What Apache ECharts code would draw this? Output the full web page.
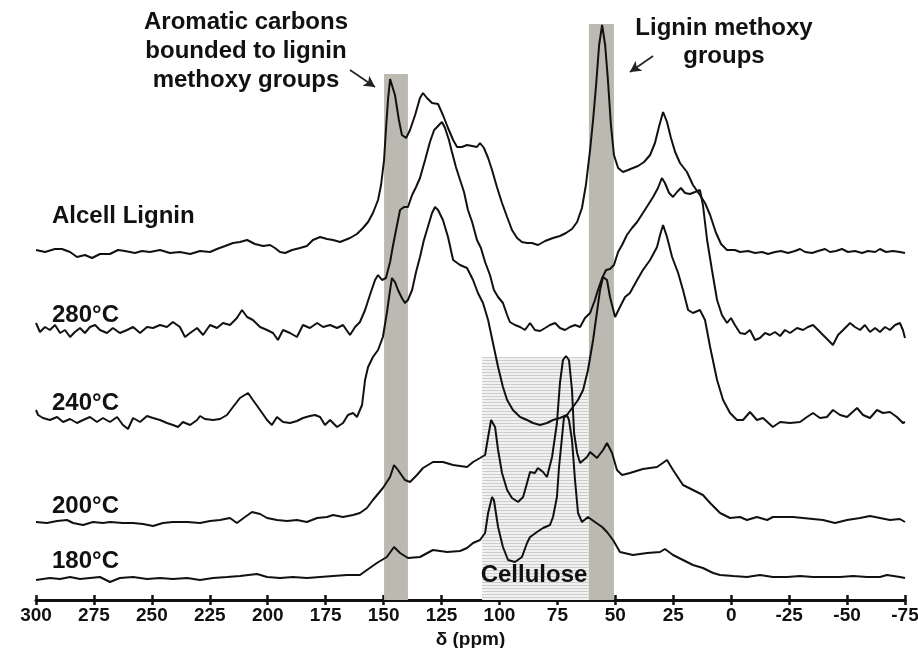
<!DOCTYPE html>
<html><head><meta charset="utf-8">
<script src="https://cdn.jsdelivr.net/npm/echarts@6/dist/echarts.min.js"></script>
<style>html,body{margin:0;padding:0;background:#fff}#c{width:918px;height:648px}</style>
</head><body><div id="c"></div>
<script>
// x = chemical shift (ppm), y = intensity (a.u., traces vertically offset as in the figure)
const ppmTicks = [300, 275, 250, 225, 200, 175, 150, 125, 100, 75, 50, 25, 0, -25, -50, -75];
const traceNames = ['Alcell Lignin', '280°C', '240°C', '200°C', '180°C'];

const alcell = [[300,350],[296.1,348],[291.8,351],[288.8,351],[285.3,348],[282.3,343],[278.9,345],[275.8,342],[272.4,346],[268.1,346],[264.6,350],[261.6,349],[257.3,347],[254.3,349],[250.8,348],[246.5,350],[242.2,347],[237.9,348],[233.5,346],[229.2,349],[224.9,348],[221.9,351],[218.4,354],[215.0,357],[212.0,358],[208.9,360],[205.5,356],[202.0,354],[199.0,355],[196.9,352],[194.7,348],[192.5,347],[189.5,350],[186.1,352],[183.1,354],[180.5,360],[177.4,363],[174.4,361],[171.8,360],[168.8,358],[164.5,362],[161.5,366],[158.9,372],[156.7,378],[154.6,387],[152.4,400],[151.1,415],[149.8,440],[149.0,470],[148.1,500],[147.2,521],[146.4,520],[145.1,505],[143.4,480],[142.1,465],[140.3,462],[138.6,470],[136.4,485],[134.3,502],[133.0,507],[131.3,502],[129.1,497],[126.5,496],[124.4,485],[122.2,472],[120.0,460],[118.3,453],[116.2,453],[114.0,455],[111.8,454],[109.7,453],[108.4,457],[106.7,452],[104.9,442],[103.2,430],[101.1,413],[98.9,397],[96.7,383],[94.6,370],[92.4,362],[90.3,358],[88.1,357],[86.0,357],[83.4,355],[80.3,359],[76.9,362],[73.9,364],[71.3,367],[68.7,371],[66.5,378],[64.4,392],[62.7,415],[60.9,450],[59.6,480],[58.3,515],[57.0,555],[55.7,575],[54.4,555],[53.2,520],[51.9,475],[50.6,445],[48.8,432],[46.7,428],[44.5,430],[42.4,432],[40.2,434],[37.6,438],[35.0,445],[32.9,457],[31.2,473],[29.4,488],[27.7,478],[26.0,462],[24.2,448],[22.1,437],[19.1,428],[16.5,415],[13.5,405],[11.3,397],[9.1,385],[6.7,368],[4.4,356],[1.8,350],[-1.6,350],[-3.8,348],[-7.3,349],[-10.3,347],[-13.3,348],[-15.9,346],[-18.9,348],[-21.5,349],[-24.5,347],[-27.5,349],[-29.7,351],[-31.9,348],[-34.9,347],[-37.5,349],[-40.5,351],[-42.6,348],[-45.2,349],[-47.8,351],[-50.4,348],[-53.4,349],[-56.5,347],[-59.0,349],[-62.1,348],[-64.2,351],[-66.8,348],[-69.8,349],[-72.8,348],[-75,347]];

const t280 = [[300,277],[298.3,268],[296.1,273],[294.0,270],[291.8,275],[289.6,267],[287.5,270],[285.3,263],[283.2,268],[281.0,272],[278.9,267],[276.7,273],[274.5,275],[272.4,270],[269.4,267],[266.8,272],[263.8,267],[260.7,270],[258.1,273],[255.1,267],[252.1,273],[249.5,272],[246.5,275],[243.5,273],[240.9,278],[237.9,273],[235.7,263],[233.5,267],[230.5,272],[227.9,265],[224.9,275],[221.9,272],[219.3,277],[216.3,275],[213.3,282],[211.1,290],[208.9,283],[206.4,280],[203.3,273],[200.3,270],[197.7,267],[195.6,260],[193.4,270],[190.4,267],[187.4,263],[184.8,275],[181.8,272],[178.7,277],[176.1,273],[173.1,275],[170.1,272],[167.5,275],[164.5,265],[162.3,273],[160.2,278],[158.0,290],[155.9,305],[153.7,320],[152.4,325],[150.7,320],[149.0,322],[147.2,338],[145.9,355],[144.2,375],[142.9,390],[141.2,393],[139.5,393],[137.7,405],[136.0,413],[134.3,422],[132.1,440],[130.0,458],[128.2,470],[126.9,473],[125.7,476],[124.8,478],[123.5,472],[121.8,460],[120.5,448],[118.8,433],[117.0,420],[115.3,408],[113.6,390],[111.8,378],[109.7,360],[108.0,352],[106.2,338],[104.1,325],[102.4,310],[100.6,303],[98.5,297],[96.7,285],[95.5,278],[93.3,275],[91.1,273],[89.0,270],[86.8,277],[84.7,270],[82.5,269],[80.3,272],[78.2,275],[76.0,277],[73.9,272],[71.7,270],[69.6,273],[67.4,275],[65.2,273],[63.1,282],[60.9,287],[58.8,300],[57.5,310],[55.7,322],[54.0,330],[52.3,331],[50.6,335],[48.8,348],[47.1,355],[45.0,365],[42.8,372],[40.6,378],[38.1,387],[35.9,395],[33.7,403],[31.6,412],[29.9,422],[28.6,417],[26.8,407],[25.1,403],[23.4,408],[21.7,412],[19.9,407],[17.8,406],[15.6,408],[13.5,410],[12.2,395],[10.4,360],[8.3,330],[6.1,300],[4.0,285],[1.8,277],[0.1,282],[-1.6,275],[-3.8,267],[-6.0,266],[-8.1,270],[-10.3,260],[-12.4,262],[-14.6,267],[-16.7,265],[-18.9,268],[-21.1,264],[-23.2,270],[-25.4,267],[-28.4,272],[-31.0,270],[-33.1,273],[-35.3,275],[-37.5,270],[-39.6,265],[-41.8,260],[-43.9,255],[-46.1,265],[-48.3,270],[-51.3,277],[-53.4,273],[-55.6,270],[-57.7,275],[-59.9,268],[-62.1,272],[-64.2,268],[-66.4,273],[-68.5,270],[-70.7,275],[-72.8,277],[-74.1,270],[-75,262]];

const t240 = [[300,190],[299.1,185],[297.0,182],[294.0,180],[290.9,183],[288.3,178],[285.3,181],[282.3,177],[279.7,180],[276.7,183],[273.7,178],[271.1,182],[268.1,178],[265.0,183],[262.5,175],[260.3,171],[258.1,182],[255.1,178],[252.1,184],[249.5,182],[246.5,180],[243.5,177],[240.9,175],[238.7,173],[236.6,178],[233.5,175],[230.5,180],[229.2,184],[227.1,181],[223.6,180],[220.6,181],[217.6,185],[215.0,193],[212.0,202],[208.5,207],[206.4,200],[203.3,190],[200.3,180],[198.2,175],[196.0,183],[193.4,178],[190.4,177],[187.4,179],[184.8,182],[181.8,184],[179.6,185],[177.4,183],[175.3,175],[173.1,180],[170.1,173],[167.5,177],[165.4,185],[163.2,187],[161.5,183],[159.3,195],[158.0,220],[156.7,233],[154.6,243],[152.4,250],[150.3,263],[148.6,287],[147.2,310],[146.4,322],[145.1,318],[143.8,310],[142.1,302],[140.8,297],[139.5,300],[137.7,310],[136.0,328],[134.3,343],[132.6,360],[131.3,370],[129.1,387],[127.8,393],[126.5,390],[124.4,380],[122.2,363],[120.0,340],[117.0,335],[114.0,332],[111.4,320],[109.3,307],[107.1,297],[104.9,280],[102.8,257],[100.6,233],[98.5,213],[96.7,200],[94.2,190],[91.1,183],[88.1,180],[85.5,177],[82.5,175],[79.5,177],[76.9,180],[73.9,182],[70.9,185],[68.3,193],[66.1,200],[63.9,210],[61.8,230],[59.6,260],[56.6,310],[55.3,323],[53.6,320],[52.3,303],[50.1,283],[48.0,293],[45.8,303],[43.7,307],[40.6,320],[38.1,330],[35.0,340],[32.0,353],[30.7,365],[29.4,375],[27.7,363],[25.5,343],[22.9,327],[20.8,310],[18.6,290],[16.5,287],[13.5,290],[11.3,280],[9.1,253],[6.1,220],[3.5,200],[0.5,187],[-2.5,180],[-5.1,180],[-8.1,188],[-11.1,180],[-13.7,182],[-18.0,173],[-21.1,178],[-25.4,177],[-29.7,178],[-32.7,183],[-35.3,187],[-38.3,182],[-41.3,183],[-43.9,190],[-47.0,185],[-50.0,183],[-54.3,192],[-56.9,185],[-59.9,182],[-62.9,190],[-65.5,187],[-68.5,188],[-71.5,183],[-74.1,177],[-75,178]];

const t200 = [[300,78],[295.3,77],[290.9,79],[286.6,80],[284.0,77],[279.7,75],[275.4,78],[271.1,77],[268.1,78],[262.5,77],[258.1,77],[253.8,76],[249.5,74],[245.2,77],[240.9,78],[234.8,78],[229.2,77],[224.9,79],[220.6,80],[216.3,82],[213.3,77],[209.8,83],[206.8,88],[203.3,86],[200.3,82],[196.0,80],[191.7,79],[187.4,80],[183.1,78],[178.7,82],[174.4,83],[171.8,85],[167.5,83],[163.2,85],[160.2,87],[157.2,92],[154.6,100],[150.3,112],[147.2,123],[145.5,135],[143.8,130],[140.8,120],[138.6,118],[135.6,125],[133.0,132],[128.7,138],[124.4,138],[120.0,135],[117.0,134],[114.0,133],[111.4,138],[108.4,142],[106.2,145],[104.9,163],[103.6,180],[103.2,182],[101.9,173],[100.6,150],[98.9,127],[96.7,110],[94.6,102],[92.0,98],[89.8,103],[88.1,117],[86.8,128],[84.7,127],[83.4,132],[81.2,128],[79.5,123],[77.3,143],[75.2,177],[73.9,217],[72.6,240],[71.3,244],[70.0,240],[68.7,210],[67.8,167],[66.5,147],[65.2,137],[62.2,143],[60.9,148],[57.9,142],[55.3,150],[53.6,157],[51.4,147],[49.3,130],[47.1,125],[43.7,127],[38.1,131],[32.0,133],[27.7,140],[25.1,130],[20.8,115],[16.5,110],[12.2,105],[9.1,97],[4.8,87],[0.5,82],[-3.8,83],[-6.8,80],[-11.1,83],[-15.5,80],[-18.0,83],[-22.4,83],[-26.7,83],[-31.0,82],[-35.3,81],[-39.6,80],[-44.8,77],[-50.0,80],[-55.6,82],[-59.9,84],[-64.2,82],[-68.5,80],[-72.8,81],[-75,78]];

const t180 = [[300,20],[294.0,22],[289.6,21],[285.3,23],[281.0,21],[276.7,22],[272.4,23],[268.1,18],[263.8,22],[258.1,23],[252.1,21],[246.5,22],[240.9,21],[234.8,22],[229.2,20],[223.6,22],[217.6,23],[212.0,24],[204.6,26],[200.3,23],[194.7,22],[189.1,23],[183.1,22],[177.4,23],[171.8,24],[165.8,25],[160.2,25],[157.2,30],[152.9,37],[148.6,43],[145.5,53],[142.9,47],[139.5,42],[134.3,43],[128.7,50],[122.6,48],[117.0,49],[114.0,52],[111.4,57],[108.4,60],[106.2,67],[104.9,87],[103.2,103],[102.4,100],[100.6,73],[98.5,53],[96.3,40],[93.3,38],[90.3,43],[88.1,57],[86.8,63],[83.8,68],[81.2,72],[78.2,75],[76.9,83],[75.2,103],[74.3,133],[73.0,163],[72.2,182],[70.9,185],[70.0,180],[68.7,160],[67.4,120],[66.1,87],[64.4,78],[61.8,83],[58.8,78],[55.7,73],[53.6,68],[51.0,60],[48.0,48],[42.4,45],[36.3,47],[30.7,48],[28.6,51],[25.1,45],[20.8,40],[16.5,35],[12.2,32],[7.8,27],[4.8,25],[-0.8,24],[-6.8,23],[-12.4,25],[-18.0,23],[-24.1,23],[-29.7,24],[-35.3,23],[-41.3,23],[-47.0,23],[-52.6,24],[-58.6,23],[-64.2,23],[-67.2,25],[-72.8,23],[-75,22]];

// highlighted regions: [ppm from, ppm to, top intensity]
const aromaticBand = [149.8, 139.5, 526];
const methoxyBand = [61.4, 50.6, 576];
const celluloseBand = [107.5, 61.4, 243];

const FONT = '"Liberation Sans", Arial, sans-serif';
const INK = '#111';

const chart = echarts.init(document.getElementById('c'), null, {renderer: 'canvas'});

function bandItem(fill) {
  return function (params, api) {
    const p1 = api.coord([api.value(0), api.value(2)]);
    const p2 = api.coord([api.value(1), 0]);
    return {type: 'rect', shape: {x: Math.min(p1[0], p2[0]), y: p1[1], width: Math.abs(p2[0] - p1[0]), height: p2[1] - p1[1]}, style: {fill: fill}};
  };
}
function hatchItem(params, api) {
  const p1 = api.coord([api.value(0), api.value(2)]);
  const p2 = api.coord([api.value(1), 0]);
  const x1 = Math.min(p1[0], p2[0]), x2 = Math.max(p1[0], p2[0]);
  const children = [{type: 'rect', shape: {x: x1, y: p1[1], width: x2 - x1, height: p2[1] - p1[1]}, style: {fill: '#f1f1f1'}}];
  for (let y = p1[1] + 0.5; y < p2[1]; y += 3) {
    children.push({type: 'line', shape: {x1: x1, y1: y, x2: x2, y2: y}, style: {stroke: '#cdcdcd', lineWidth: 1}});
  }
  return {type: 'group', children: children};
}

const traces = [alcell, t280, t240, t200, t180];
const series = [
  {type: 'custom', renderItem: hatchItem, data: [celluloseBand], z: 1, silent: true},
  {type: 'custom', renderItem: bandItem('#bcb9b1'), data: [aromaticBand, methoxyBand], z: 1, silent: true}
];
traces.forEach((d, i) => {
  const s = {
    name: traceNames[i], type: 'line', data: d, showSymbol: false, symbol: 'none',
    lineStyle: {color: INK, width: 2}, z: 5, silent: true, animation: false
  };
  if (i === 0) {
    s.markLine = {
      silent: true, symbol: ['none', 'arrow'], symbolSize: [9, 11], animation: false,
      lineStyle: {color: '#222', width: 1.6, type: 'solid'}, label: {show: false},
      data: [
        [{coord: [164.5, 530]}, {coord: [153.7, 513]}],
        [{coord: [33.7, 544]}, {coord: [43.7, 528]}]
      ]
    };
  }
  series.push(s);
});

function txt(text, x, y, align, size) {
  return {type: 'text', x: x, y: y, z: 100, silent: true,
    style: {text: text, font: 'bold ' + (size || 24) + 'px ' + FONT, fill: INK, textAlign: align || 'left', textVerticalAlign: 'middle'}};
}

const option = {
  animation: false,
  backgroundColor: '#fff',
  grid: {left: 36, right: 13, top: 0, bottom: 48, outerBoundsMode: 'none', containLabel: false},
  xAxis: [{
    type: 'value', inverse: true, min: -75, max: 300, interval: 25,
    name: 'δ (ppm)', nameLocation: 'middle', nameGap: 21,
    nameTextStyle: {fontFamily: FONT, fontWeight: 'bold', fontSize: 19, color: INK},
    axisLine: {lineStyle: {color: INK, width: 3}},
    axisTick: {show: true, length: 5, lineStyle: {color: INK, width: 2.5}},
    axisLabel: {fontFamily: FONT, fontWeight: 'bold', fontSize: 19, color: INK, margin: 6, showMinLabel: true, showMaxLabel: true, hideOverlap: false},
    splitLine: {show: false}
  }, {
    type: 'value', inverse: true, min: -75, max: 300, interval: 25, position: 'bottom',
    axisLine: {show: false}, axisLabel: {show: false}, splitLine: {show: false},
    axisTick: {show: true, inside: true, length: 5, lineStyle: {color: INK, width: 2.5}}
  }],
  yAxis: {type: 'value', min: 0, max: 600, show: false},
  series: series,
  graphic: [
    txt('Alcell Lignin', 52, 216),
    txt('280°C', 52, 315),
    txt('240°C', 52, 403),
    txt('200°C', 52, 506),
    txt('180°C', 52, 561),
    txt('Aromatic carbons', 246, 22, 'center'),
    txt('bounded to lignin', 246, 51, 'center'),
    txt('methoxy groups', 246, 80, 'center'),
    txt('Lignin methoxy', 724, 28, 'center'),
    txt('groups', 724, 56, 'center'),
    txt('Cellulose', 534, 575, 'center')
  ]
};
chart.setOption(option);
</script>
</body></html>
